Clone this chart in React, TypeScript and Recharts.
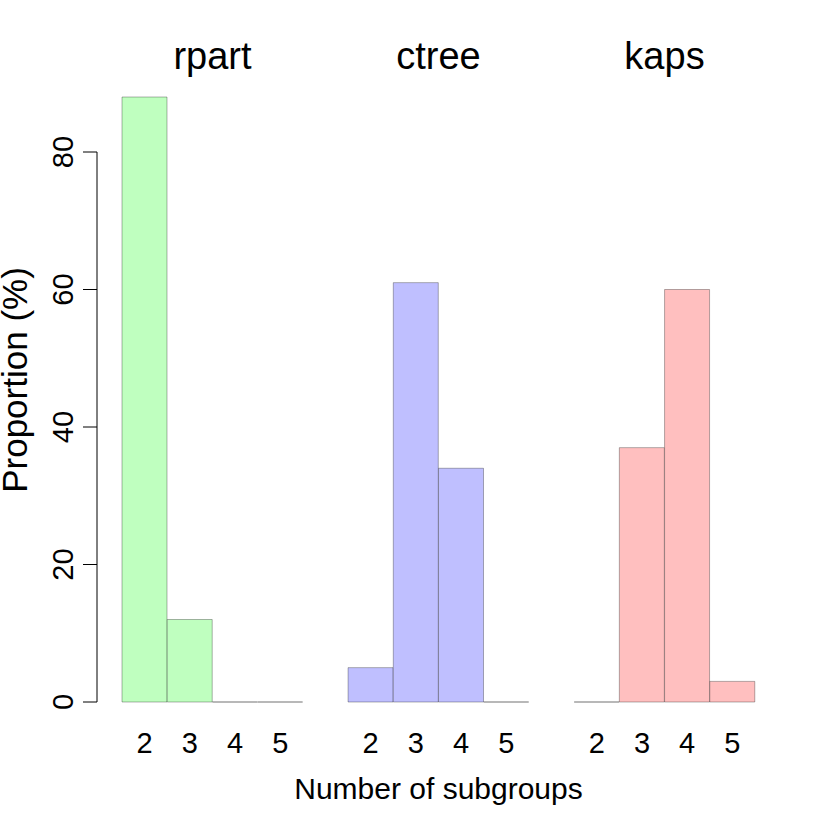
import { Bar, BarChart, XAxis, YAxis } from "recharts";

const subgroups = ["2", "3", "4", "5"];
const methods = ["rpart", "ctree", "kaps"];
const rpartPct = [88, 12, 0, 0];
const ctreePct = [5, 61, 34, 0];
const kapsPct = [0, 37, 60, 3];
const yTicks = [0, 20, 40, 60, 80];
const fills = ["#BFFFBF", "#BFBFFF", "#FFBFBF"];

type Row = { key: string; label: string; value: number | null; group: number };

// one slot per bar, plus an empty slot between methods (like barplot space)
const rows: Row[] = [];
[rpartPct, ctreePct, kapsPct].forEach((vals, m) => {
  if (m > 0) rows.push({ key: `gap${m}`, label: "", value: null, group: m });
  vals.forEach((v, i) =>
    rows.push({ key: `${methods[m]}-${subgroups[i]}`, label: subgroups[i], value: v, group: m })
  );
});

const FONT = "'Liberation Sans', Arial, Helvetica, sans-serif";

// zero-height bars still get their outline, as in R
function BarShape(props: any) {
  const { x, y, width, height, payload } = props;
  if (!payload || payload.value == null) return null;
  if (![x, y, width, height].every((n) => Number.isFinite(n))) return null;
  return (
    <path
      d={`M${x},${y} h${width} v${height} h${-width} Z`}
      fill={fills[payload.group]}
      stroke="rgba(0,0,0,0.3)"
      strokeWidth={1}
    />
  );
}

function YTick(props: any) {
  const { x, y, payload } = props;
  return (
    <text
      x={x}
      y={y}
      transform={`rotate(-90 ${x} ${y})`}
      textAnchor="middle"
      fontSize={29}
      fontFamily={FONT}
      fill="#000"
    >
      {payload.value}
    </text>
  );
}

const titleX = [212.5, 438.5, 664.5];

export default function App() {
  return (
    <div style={{ position: "absolute", left: 0, top: 0, width: 830, height: 830, background: "#fff" }}>
      <div style={{ position: "absolute", left: 0, top: 0 }}>
        <BarChart
          width={830}
          height={830}
          data={rows}
          barCategoryGap={0}
          margin={{ top: 97, right: 75, bottom: 68, left: 122 }}
        >
          <XAxis
            dataKey="key"
            interval={0}
            axisLine={false}
            tickLine={false}
            height={60}
            tickMargin={24}
            tickFormatter={(_v, i) => rows[i]?.label ?? ""}
            tick={{ fontSize: 29, fill: "#000", fontFamily: FONT }}
          />
          <YAxis hide width={0} domain={[0, 88]} />
          <Bar dataKey="value" shape={<BarShape />} isAnimationActive={false} />
        </BarChart>
      </div>
      {/* y axis only: its own plot area spans 0..80 like R's axis() */}
      <div style={{ position: "absolute", left: 0, top: 0 }}>
        <BarChart width={830} height={830} data={rows} margin={{ top: 152, right: 75, bottom: 128, left: 0 }}>
          <XAxis dataKey="key" hide height={0} />
          <YAxis
            width={97}
            domain={[0, 80]}
            allowDataOverflow
            ticks={yTicks}
            tickSize={14}
            tickMargin={10}
            stroke="#000"
            tick={<YTick />}
          />
          <Bar dataKey="value" shape={() => <g />} isAnimationActive={false} />
        </BarChart>
      </div>
      <svg width={830} height={830} style={{ position: "absolute", left: 0, top: 0, pointerEvents: "none" }}>
        {methods.map((m, i) => (
          <text key={m} x={titleX[i]} y={69} textAnchor="middle" fontSize={38} fontFamily={FONT} fill="#000">
            {m}
          </text>
        ))}
        <text x={438.5} y={799} textAnchor="middle" fontSize={30} fontFamily={FONT} fill="#000">
          Number of subgroups
        </text>
        <text
          x={27}
          y={380}
          transform="rotate(-90 27 380)"
          textAnchor="middle"
          fontSize={35}
          fontFamily={FONT}
          fill="#000"
        >
          Proportion (%)
        </text>
      </svg>
    </div>
  );
}
